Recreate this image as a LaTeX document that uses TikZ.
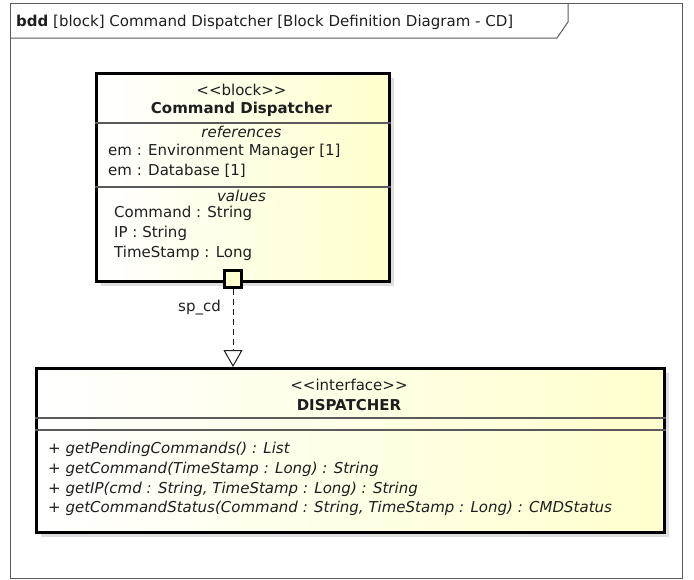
\documentclass[tikz,border=0pt]{standalone}
\usepackage{fontspec}
\setmainfont{DejaVu Sans}
\usetikzlibrary{arrows.meta}
\usetikzlibrary{shadows}
\definecolor{blockcream}{RGB}{255,255,205}
\definecolor{framegray}{RGB}{90,90,90}
\definecolor{textgray}{RGB}{30,30,30}
\tikzstyle{block}=[draw, line width=2.5pt, left color=white, right color=blockcream, drop shadow={shadow xshift=5pt, shadow yshift=-5pt, fill=black!13, opacity=1}]
\tikzstyle{compartment}=[line width=1.3pt, draw=framegray]
\tikzstyle{member}=[inner sep=0pt, text=textgray, font=\fontsize{15}{19.8}\selectfont, align=left]
\tikzstyle{stereotype}=[member, align=center]
\tikzstyle{blockname}=[member, align=center, font=\fontsize{15}{19.8}\selectfont\bfseries]
\tikzstyle{port}=[draw, line width=2.5pt, fill=blockcream, minimum size=17pt, inner sep=0pt]
\tikzstyle{realization}=[draw=textgray, line width=1pt, dash pattern=on 6pt off 4pt, -{Triangle[fill=white, length=17pt, width=19pt]}]
\tikzstyle{diagram frame}=[draw=framegray, line width=1pt]

\begin{document}
\begin{tikzpicture}[x=1pt, y=-1pt]
    \useasboundingbox (0,0) rectangle (694,579);
    % diagram frame and title tab
    \draw[diagram frame] (10,3) rectangle (682,578);
    \draw[diagram frame] (10,38) -- (557,38) -- (568,22) -- (568,3);
    \node[member, anchor=west] (title) at (16,22) {\textbf{bdd} [block] Command Dispatcher [Block Definition Diagram - CD]};

    % block
    \node[block, minimum width=293pt, minimum height=208pt, anchor=north west] (cd) at (95,72) {};
    \draw[compartment] (cd.west |- 0,123) -- (cd.east |- 0,123);
    \draw[compartment] (cd.west |- 0,187) -- (cd.east |- 0,187);
    \node[stereotype] (cd_stereo) at (241.5,90) {<{}<block>{}>};
    \node[blockname] (cd_name) at (241.5,109) {Command Dispatcher};
    \node[stereotype, font=\fontsize{15}{19.8}\selectfont\itshape] (cd_refs_title) at (241.5,132) {references};
    \node[member, anchor=west] (cd_refs) at (108,161) {em : Environment Manager [1]\\em : Database [1]};
    \node[stereotype, font=\fontsize{15}{19.8}\selectfont\itshape] (cd_values_title) at (241.5,196) {values};
    \node[member, anchor=west] (cd_values) at (114,233.5) {Command : String\\IP : String\\TimeStamp : Long};
    \node[port] (port) at (233,279) {};

    % interface
    \node[block, minimum width=628pt, minimum height=164pt, anchor=north west] (dsp) at (35,367) {};
    \draw[compartment] (dsp.west |- 0,418) -- (dsp.east |- 0,418);
    \draw[compartment] (dsp.west |- 0,430) -- (dsp.east |- 0,430);
    \node[stereotype] (dsp_stereo) at (349,385) {<{}<interface>{}>};
    \node[blockname] (dsp_name) at (349,405) {DISPATCHER};
    \node[member, anchor=west, font=\fontsize{15}{19.8}\selectfont\itshape] (dsp_ops) at (48,479) {+ getPendingCommands() : List\\+ getCommand(TimeStamp : Long) : String\\+ getIP(cmd : String, TimeStamp : Long) : String\\+ getCommandStatus(Command : String, TimeStamp : Long) : CMDStatus};

    \draw[realization] (port.south) -- (port.south |- dsp.north);
    \node[member, anchor=east] (sp_label) at (221,308) {sp\_cd};
\end{tikzpicture}
\end{document}
